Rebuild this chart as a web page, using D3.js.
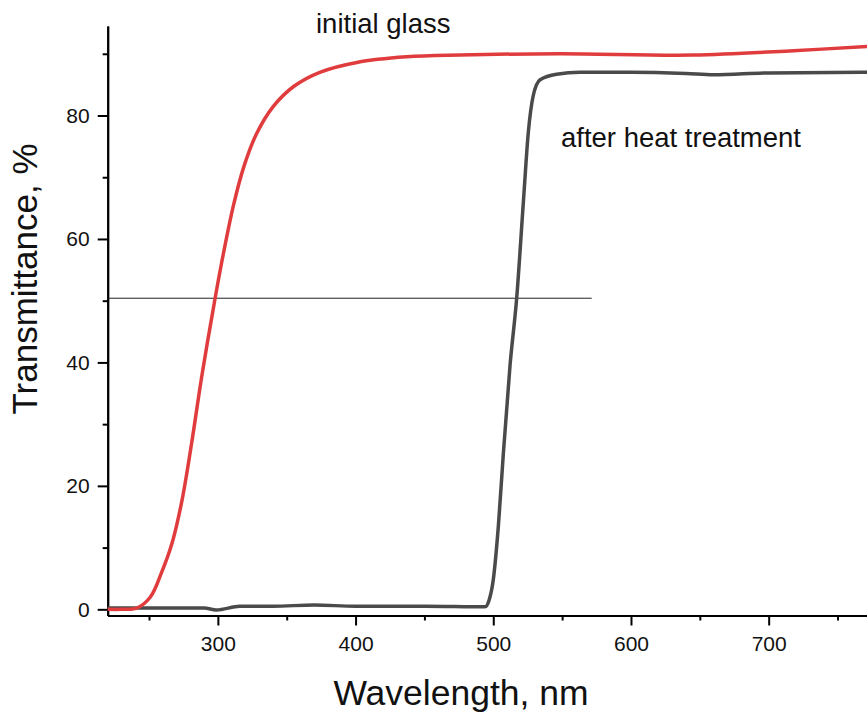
<!DOCTYPE html>
<html>
<head>
<meta charset="utf-8">
<script src="https://cdn.jsdelivr.net/npm/d3@7"></script>
<style>
  html, body { margin: 0; padding: 0; background: #fff; }
  svg { display: block; font-family: "Liberation Sans", Arial, sans-serif; }
</style>
</head>
<body>
<div id="chart"></div>
<script>
// initial glass (red)
const wavelengthInitial = [220, 230, 241, 251, 259, 266.7, 274, 281, 288.5, 298, 304, 311.5, 319, 328, 340, 355, 374, 401, 437, 476, 548, 645, 718, 772];
const transInitial = [0, 0, 0.2, 2.0, 5.9, 10.7, 17.7, 27, 38.0, 50.4, 57.6, 65.6, 71.8, 77.0, 81.4, 84.7, 87.0, 88.6, 89.5, 89.8, 90.0, 89.8, 90.5, 91.2];

// after heat treatment (dark grey)
const wavelengthHeat = [220, 260, 290, 299, 316, 340, 370, 400, 450, 494, 497, 500, 503.7, 507.3, 512.2, 517, 521.8, 525.5, 529, 534, 546, 563, 600, 640, 660, 700, 772];
const transHeat = [0.2, 0.2, 0.2, -0.1, 0.5, 0.5, 0.7, 0.5, 0.5, 0.4, 1.5, 4.8, 13.5, 25.2, 39.6, 50.4, 65.8, 77.4, 83.2, 85.8, 86.7, 87.0, 87.0, 86.8, 86.6, 86.9, 87.0];

// 50% reference line
const refLevel = 50.4;
const refRange = [220, 571.5];

const xMajorTicks = [300, 400, 500, 600, 700];
const xMinorTicks = [250, 350, 450, 550, 650, 750];
const yMajorTicks = [0, 20, 40, 60, 80];
const yMinorTicks = [10, 30, 50, 70, 90];

const width = 867;
const height = 714;
const redColor = '#e03c3e';
const greyColor = '#4a4a4a';
const axisColor = '#000';

const xScale = d3.scaleLinear().domain([220, 771.4]).range([107.7, 867]);
const yScale = d3.scaleLinear().domain([-1, 94.5]).range([615.5, 26]);

const svg = d3.select('#chart')
  .append('svg')
  .attr('width', width)
  .attr('height', height);

function styleAxis(g) {
  g.select('.domain').attr('stroke', axisColor).attr('stroke-width', 2);
  g.selectAll('.tick line').attr('stroke', axisColor).attr('stroke-width', 2);
  g.selectAll('.tick text').attr('fill', '#111').style('font-size', '21px');
}

// minor ticks first, no labels
const xMinor = svg.append('g')
  .attr('transform', `translate(0, ${yScale(-1)})`)
  .call(d3.axisBottom(xScale).tickValues(xMinorTicks).tickSize(5).tickSizeOuter(0).tickFormat(''));
styleAxis(xMinor);

const xAxis = svg.append('g')
  .attr('class', 'x-axis')
  .attr('transform', `translate(0, ${yScale(-1)})`)
  .call(d3.axisBottom(xScale).tickValues(xMajorTicks).tickSize(10).tickSizeOuter(0).tickPadding(11));
styleAxis(xAxis);

const yMinor = svg.append('g')
  .attr('transform', `translate(${xScale(220)}, 0)`)
  .call(d3.axisLeft(yScale).tickValues(yMinorTicks).tickSize(5).tickSizeOuter(0).tickFormat(''));
styleAxis(yMinor);

const yAxis = svg.append('g')
  .attr('class', 'y-axis')
  .attr('transform', `translate(${xScale(220)}, 0)`)
  .call(d3.axisLeft(yScale).tickValues(yMajorTicks).tickSize(10).tickSizeOuter(0).tickPadding(8));
styleAxis(yAxis);

// reference line at ~50 %
svg.append('line')
  .attr('x1', xScale(refRange[0]))
  .attr('x2', xScale(refRange[1]))
  .attr('y1', yScale(refLevel))
  .attr('y2', yScale(refLevel))
  .attr('stroke', '#222')
  .attr('stroke-width', 1);

const heatLine = d3.line()
  .x(d => xScale(d[0]))
  .y(d => yScale(d[1]))
  .curve(d3.curveMonotoneX);

const initialLine = d3.line()
  .x(d => xScale(d[0]))
  .y(d => yScale(d[1]))
  .curve(d3.curveCatmullRom.alpha(0.5));

svg.append('path')
  .datum(d3.zip(wavelengthHeat, transHeat))
  .attr('fill', 'none')
  .attr('stroke', greyColor)
  .attr('stroke-width', 3.5)
  .attr('stroke-linejoin', 'round')
  .attr('d', heatLine);

svg.append('path')
  .datum(d3.zip(wavelengthInitial, transInitial))
  .attr('fill', 'none')
  .attr('stroke', redColor)
  .attr('stroke-width', 3.5)
  .attr('stroke-linejoin', 'round')
  .attr('d', initialLine);

// annotations
svg.append('text')
  .attr('x', 316)
  .attr('y', 33)
  .attr('fill', '#111')
  .style('font-size', '27.5px')
  .text('initial glass');

svg.append('text')
  .attr('x', 561)
  .attr('y', 147)
  .attr('fill', '#111')
  .style('font-size', '27.5px')
  .text('after heat treatment');

// axis titles
svg.append('text')
  .attr('x', 461)
  .attr('y', 705)
  .attr('text-anchor', 'middle')
  .attr('fill', '#111')
  .style('font-size', '35.5px')
  .text('Wavelength, nm');

svg.append('text')
  .attr('transform', `translate(37, 279) rotate(-90)`)
  .attr('text-anchor', 'middle')
  .attr('fill', '#111')
  .style('font-size', '35px')
  .text('Transmittance, %');
</script>
</body>
</html>
